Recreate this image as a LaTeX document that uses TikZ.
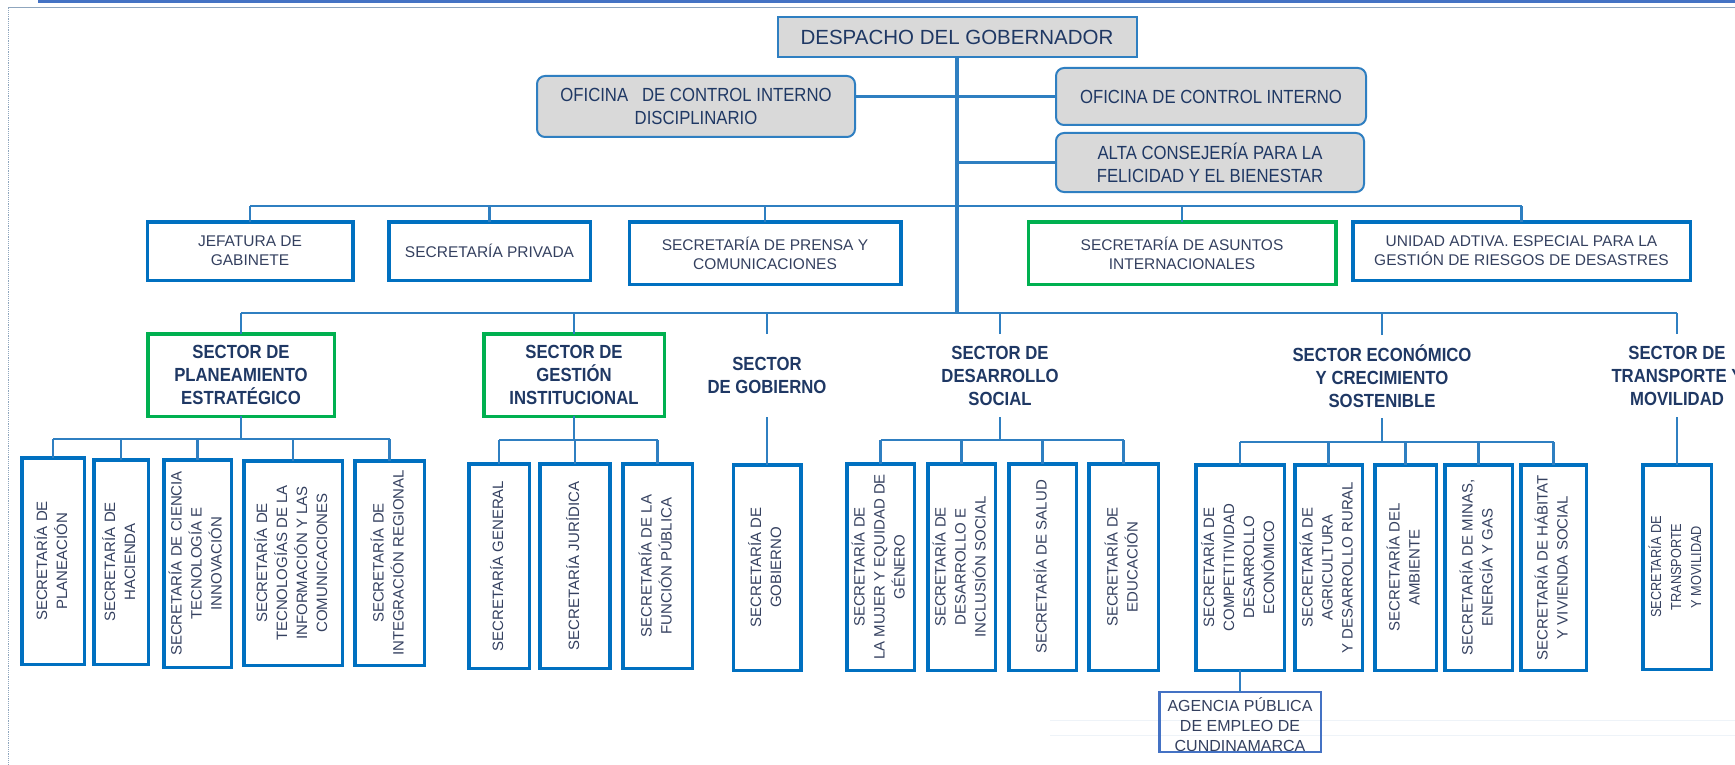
\documentclass[tikz,border=0pt]{standalone}
\usepackage{fontspec}
\usepackage{graphicx}
\setmainfont{Liberation Sans}
\newfontfamily\narrowf[FakeStretch=0.88]{Liberation Sans}
\definecolor{boxblue}{HTML}{0070C0}
\definecolor{linkblue}{HTML}{2F7FC1}
\definecolor{ggreen}{HTML}{00B050}
\definecolor{gfill}{HTML}{D9D9D9}
\definecolor{txt}{HTML}{1F3864}
\definecolor{txttwo}{HTML}{34405F}
\definecolor{topline}{HTML}{4472C4}
\definecolor{frameline}{HTML}{8FA6BE}
\definecolor{faint}{HTML}{EEF3F8}
\newcommand{\vlines}[1]{\rotatebox{90}{\begin{tabular}{@{}c@{}}#1\end{tabular}}}
\tikzset{
  every node/.style={inner sep=0pt, outer sep=0pt, text=txt},
  greybox/.style={draw=linkblue, line width=2pt, fill=gfill, rounded corners=8pt, align=center,
    font=\narrowf\fontsize{19}{23}\selectfont},
  topbox/.style={draw=linkblue, line width=2pt, fill=gfill, font=\fontsize{20.5}{24}\selectfont},
  unitbox/.style={draw=boxblue, line width=3.5pt, align=center, text=txttwo,
    font=\fontsize{15.5}{19}\selectfont},
  greenunit/.style={unitbox, draw=ggreen},
  sectorlabel/.style={align=center, minimum height=83pt, font=\narrowf\bfseries\fontsize{19}{23}\selectfont},
  sectorbox/.style={align=center, draw=ggreen, line width=3.5pt, font=\narrowf\bfseries\fontsize{19}{23}\selectfont},
  secbox/.style={draw=boxblue, line width=3.5pt, text=txttwo, font=\fontsize{15}{20}\selectfont},
  agencybox/.style={draw=topline, line width=2.5pt, align=center, text=txttwo, font=\fontsize{16}{20}\selectfont},
  conn/.style={draw=linkblue, line width=2.5pt},
  trunkline/.style={draw=linkblue, line width=3.5pt},
}
\begin{document}
\begin{tikzpicture}[x=1pt,y=-1pt]
\useasboundingbox (0,0) rectangle (1735,765);
% frame
\draw[topline, line width=3pt] (38,1.5) -- (1735,1.5);
\draw[frameline, line width=1pt] (8,7.5) -- (1735,7.5);
\draw[frameline, line width=1.2pt, densely dotted] (8.5,7.5) -- (8.5,765);
\draw[faint, line width=1pt] (1050,720) -- (1735,720);
\draw[faint, line width=1pt] (1050,735) -- (1735,735);

% top level
\node[topbox, minimum width=359pt, minimum height=40pt] (desp) at (957,37) {DESPACHO DEL GOBERNADOR};
\node[greybox, minimum width=318pt, minimum height=61pt] (ocid) at (696,106.5) {OFICINA~~ DE CONTROL INTERNO\\DISCIPLINARIO};
\node[greybox, minimum width=310pt, minimum height=57pt] (oci) at (1211,96.5) {OFICINA DE CONTROL INTERNO};
\node[greybox, minimum width=308pt, minimum height=59pt] (alta) at (1210,162.5) {ALTA CONSEJERÍA PARA LA\\FELICIDAD Y EL BIENESTAR};

% row 2
\node[unitbox, minimum width=205.5pt, minimum height=58.5pt] (jef) at (250,251) {JEFATURA DE\\GABINETE};
\node[unitbox, minimum width=201.5pt, minimum height=58.5pt] (priv) at (489.5,251) {SECRETARÍA PRIVADA};
\node[unitbox, minimum width=271.5pt, minimum height=62.5pt] (prensa) at (765,253) {SECRETARÍA DE PRENSA Y\\COMUNICACIONES};
\node[greenunit, minimum width=307.5pt, minimum height=62.5pt] (asuntos) at (1182,253) {SECRETARÍA DE ASUNTOS\\INTERNACIONALES};
\node[unitbox, minimum width=337.5pt, minimum height=58.5pt] (unidad) at (1521.5,251) {UNIDAD ADTIVA. ESPECIAL PARA LA\\GESTIÓN DE RIESGOS DE DESASTRES};

% sectors
\node[sectorbox, minimum width=186.5pt, minimum height=82.5pt] (plan) at (241,375) {SECTOR DE\\PLANEAMIENTO\\ESTRATÉGICO};
\node[sectorbox, minimum width=180.5pt, minimum height=82.5pt] (gest) at (574,375) {SECTOR DE\\GESTIÓN\\INSTITUCIONAL};
\node[sectorlabel] (gobsec) at (767,375.5) {SECTOR\\DE GOBIERNO};
\node[sectorlabel] (dessec) at (1000,375.5) {SECTOR DE\\DESARROLLO\\SOCIAL};
\node[sectorlabel] (ecosec) at (1382,376.5) {SECTOR ECONÓMICO\\Y CRECIMIENTO\\SOSTENIBLE};
\node[sectorlabel] (trasec) at (1677,375.5) {SECTOR DE\\TRANSPORTE Y\\MOVILIDAD};

% secretarias
\node[secbox, minimum width=62.5pt, minimum height=206.5pt] (sp1) at (53,561) {\vlines{SECRETARÍA DE\\PLANEACIÓN}};
\node[secbox, minimum width=54.5pt, minimum height=204.5pt] (sp2) at (121,562) {\vlines{SECRETARÍA DE\\HACIENDA}};
\node[secbox, minimum width=67.5pt, minimum height=207.5pt] (sp3) at (197.5,563.5) {\vlines{SECRETARÍA DE CIENCIA\\TECNOLOGÍA E\\INNOVACIÓN}};
\node[secbox, minimum width=98.5pt, minimum height=204.5pt] (sp4) at (293,563) {\vlines{SECRETARÍA DE\\TECNOLOGÍAS DE LA\\INFORMACIÓN Y LAS\\COMUNICACIONES}};
\node[secbox, minimum width=69.5pt, minimum height=204.5pt] (sp5) at (389.5,563) {\vlines{SECRETARÍA DE\\INTEGRACIÓN REGIONAL}};

\node[secbox, minimum width=60.5pt, minimum height=204.5pt] (sg1) at (499,566) {\vlines{SECRETARÍA GENERAL}};
\node[secbox, minimum width=70pt, minimum height=204.5pt] (sg2) at (575,566) {\vlines{SECRETARÍA JURÍDICA}};
\node[secbox, minimum width=69.5pt, minimum height=204.5pt] (sg3) at (657.5,566) {\vlines{SECRETARÍA DE LA\\FUNCIÓN PÚBLICA}};

\node[secbox, minimum width=67.5pt, minimum height=205.5pt] (sgob) at (767,567.5) {\vlines{SECRETARÍA DE\\GOBIERNO}};

\node[secbox, minimum width=67.5pt, minimum height=206.5pt] (sd1) at (880.5,567) {\vlines{SECRETARÍA DE\\LA MUJER Y EQUIDAD DE\\GÉNERO}};
\node[secbox, minimum width=67.5pt, minimum height=206.5pt] (sd2) at (961.5,567) {\vlines{SECRETARÍA DE\\DESARROLLO E\\INCLUSIÓN SOCIAL}};
\node[secbox, minimum width=67.5pt, minimum height=206.5pt] (sd3) at (1042.5,567) {\vlines{SECRETARÍA DE SALUD}};
\node[secbox, minimum width=69.5pt, minimum height=206.5pt] (sd4) at (1123.5,567) {\vlines{SECRETARÍA DE\\EDUCACIÓN}};

\node[secbox, minimum width=88.5pt, minimum height=205.5pt] (se1) at (1240,567.5) {\vlines{SECRETARÍA DE\\COMPETITIVIDAD\\DESARROLLO\\ECONÓMICO}};
\node[secbox, minimum width=67.5pt, minimum height=205.5pt] (se2) at (1328.5,567.5) {\vlines{SECRETARÍA DE\\AGRICULTURA\\Y DESARROLLO RURAL}};
\node[secbox, minimum width=61.5pt, minimum height=205.5pt] (se3) at (1405.5,567.5) {\vlines{SECRETARÍA DEL\\AMBIENTE}};
\node[secbox, minimum width=67.5pt, minimum height=205.5pt] (se4) at (1478.5,567.5) {\vlines{SECRETARÍA DE MINAS,\\ENERGÍA Y GAS}};
\node[secbox, minimum width=65.5pt, minimum height=205.5pt] (se5) at (1553.5,567.5) {\vlines{SECRETARÍA DE HÁBITAT\\Y VIVIENDA SOCIAL}};

\node[secbox, minimum width=68.5pt, minimum height=204.5pt, font=\narrowf\fontsize{14.5}{20}\selectfont] (str) at (1677,567) {\vlines{SECRETARÍA DE\\TRANSPORTE\\Y MOVILIDAD}};

\node[agencybox, minimum width=161.5pt, minimum height=57.5pt] (agency) at (1240,722) {\raisebox{-5pt}[\height][\depth]{\begin{tabular}{@{}c@{}}AGENCIA PÚBLICA\\DE EMPLEO DE\\CUNDINAMARCA\end{tabular}}};
\draw[topline, line width=2.5pt] (agency.south west) -- (agency.south east);

% bus coordinates
\coordinate (b2) at (957,206);
\coordinate (b3) at (957,313);
\coordinate (bp) at (241,439);
\coordinate (bg) at (574,440);
\coordinate (bd) at (1000,440);
\coordinate (be) at (1382,442);

% top connectors
\draw[trunkline] (desp.south) -- (desp.south |- b3);
\draw[conn] (ocid.east |- oci.west) -- (oci.west);
\draw[conn] (alta.west) -- (alta.west -| desp.south);

% row 2
\draw[conn] (jef.north |- b2) -- (unidad.north |- b2);
\foreach \n in {jef,priv,prensa,asuntos,unidad} \draw[conn] (\n.north) -- (\n.north |- b2);

% row 3
\draw[conn] (plan.north |- b3) -- (trasec.north |- b3);
\foreach \n in {plan,gest,gobsec,dessec,ecosec,trasec} \draw[conn] (\n.north) -- (\n.north |- b3);

% planeamiento
\draw[conn] (plan.south) -- (plan.south |- bp);
\draw[conn] (sp1.north |- bp) -- (sp5.north |- bp);
\foreach \n in {sp1,sp2,sp3,sp4,sp5} \draw[conn] (\n.north) -- (\n.north |- bp);

% gestion
\draw[conn] (gest.south) -- (gest.south |- bg);
\draw[conn] (sg1.north |- bg) -- (sg3.north |- bg);
\foreach \n in {sg1,sg2,sg3} \draw[conn] (\n.north) -- (\n.north |- bg);

% gobierno
\draw[conn] (gobsec.south) -- (sgob.north);

% desarrollo social
\draw[conn] (dessec.south) -- (dessec.south |- bd);
\draw[conn] (sd1.north |- bd) -- (sd4.north |- bd);
\foreach \n in {sd1,sd2,sd3,sd4} \draw[conn] (\n.north) -- (\n.north |- bd);

% economico
\draw[conn] (ecosec.south) -- (ecosec.south |- be);
\draw[conn] (se1.north |- be) -- (se5.north |- be);
\foreach \n in {se1,se2,se3,se4,se5} \draw[conn] (\n.north) -- (\n.north |- be);
\draw[conn] (se1.south) -- (agency.north);

% transporte
\draw[conn] (trasec.south) -- (str.north);
\end{tikzpicture}
\end{document}
